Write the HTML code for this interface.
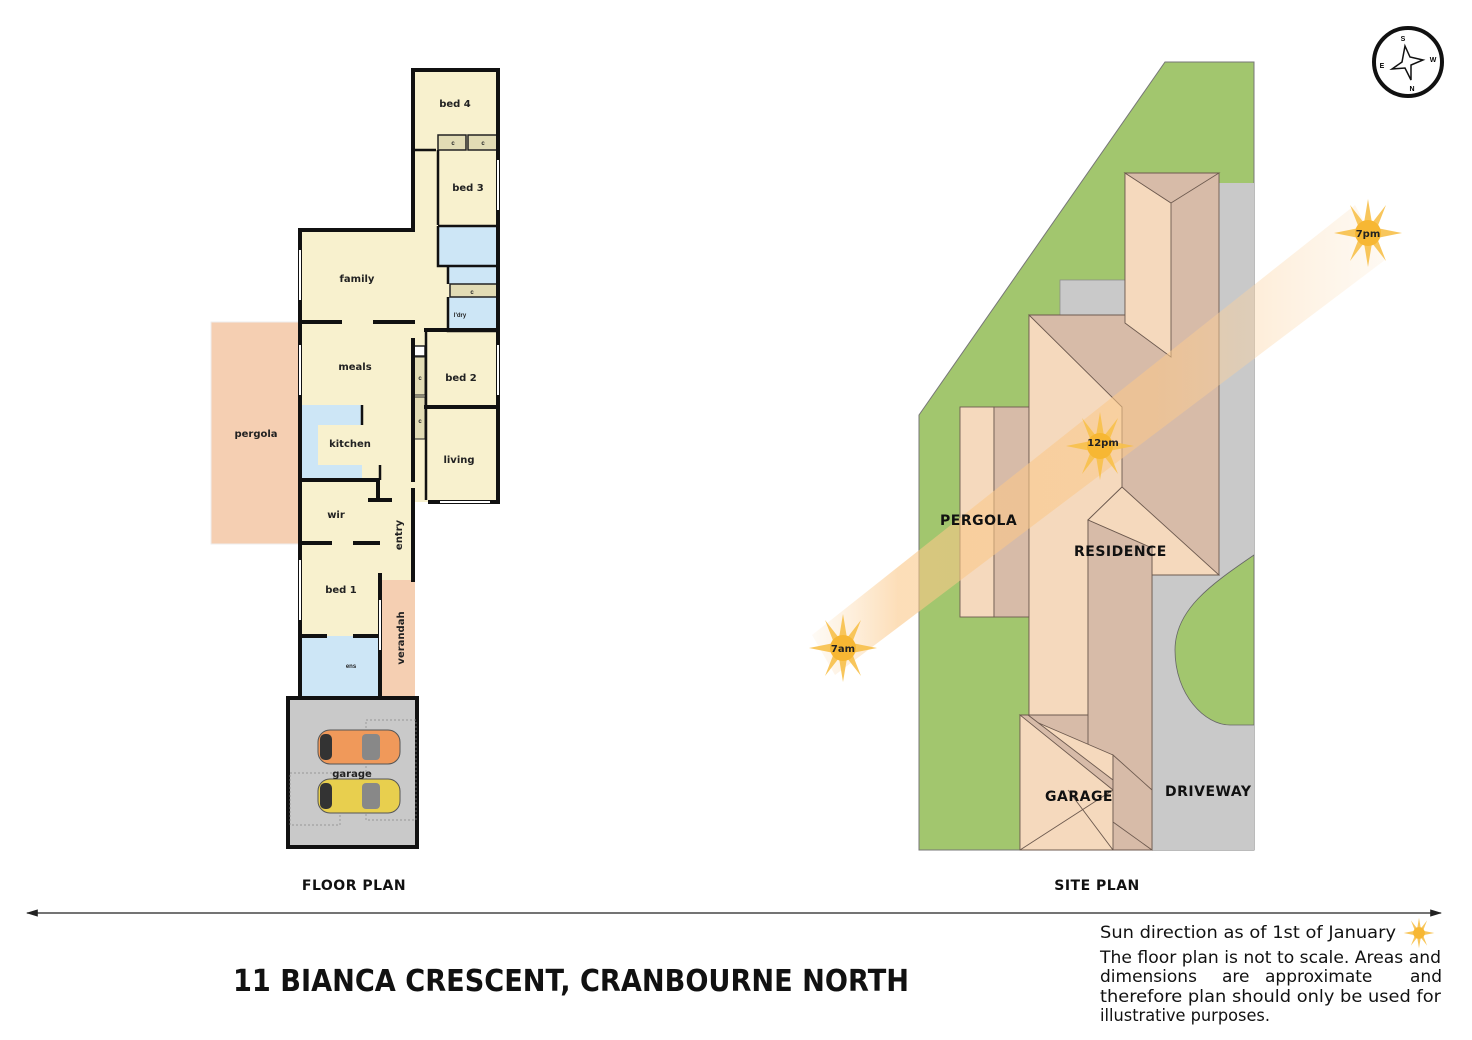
<!DOCTYPE html>
<html><head><meta charset="utf-8"><style>
html,body{margin:0;padding:0;background:#fff;}
svg{display:block;font-family:"Liberation Sans","DejaVu Sans",sans-serif;}
.rl{font-weight:bold;font-size:10px;fill:#222;text-anchor:middle;font-family:"DejaVu Sans","Liberation Sans",sans-serif;}
.sm{font-weight:bold;font-size:6px;fill:#222;text-anchor:middle;}
.sl{font-weight:bold;font-size:14px;fill:#111;font-family:"DejaVu Sans","Liberation Sans",sans-serif;letter-spacing:0.5px;}
</style></head><body>
<svg width="1472" height="1040" viewBox="0 0 1472 1040" xmlns="http://www.w3.org/2000/svg">
<defs>
<g id="sun">
<polygon points="0,-34 4,-10 18,-28 9,-5 34,0 9,5 18,28 4,10 0,34 -4,10 -18,28 -9,5 -34,0 -9,-5 -18,-28 -4,-10" fill="#f7c04a" opacity="0.9"/>
<circle r="13" fill="#f7b733"/>
</g>
<marker id="ah" markerWidth="10" markerHeight="8" refX="9" refY="4" orient="auto"><path d="M0,1 L10,4 L0,7 Z" fill="#222"/></marker>
<marker id="ah2" markerWidth="10" markerHeight="8" refX="1" refY="4" orient="auto"><path d="M10,1 L0,4 L10,7 Z" fill="#222"/></marker>
<linearGradient id="band" x1="0" y1="0" x2="1" y2="0">
<stop offset="0" stop-color="#fbd4a0" stop-opacity="0.1"/>
<stop offset="0.15" stop-color="#fbc889" stop-opacity="0.6"/>
<stop offset="0.6" stop-color="#fbc889" stop-opacity="0.55"/>
<stop offset="1" stop-color="#fde2c0" stop-opacity="0.2"/>
</linearGradient>
</defs>

<!-- ===== FLOOR PLAN ===== -->
<rect x="211" y="322" width="88" height="222" fill="#f5cfb2" stroke="#eee" stroke-width="1"/>
<rect x="413" y="70" width="85" height="432" fill="#f8f1ce"/>
<rect x="300" y="230" width="113" height="467" fill="#f8f1ce"/>
<rect x="378" y="480" width="37" height="100" fill="#f8f1ce"/>
<rect x="438" y="226" width="59" height="40" fill="#cde6f6"/>
<rect x="448" y="266" width="49" height="18" fill="#cde6f6"/>
<rect x="448" y="297" width="52" height="34" fill="#cde6f6"/>
<rect x="450" y="284" width="47" height="13" fill="#e2dcb5" stroke="#222" stroke-width="1.5"/>
<rect x="438" y="135" width="28" height="15" fill="#e2dcb5" stroke="#222" stroke-width="1.5"/>
<rect x="468" y="135" width="30" height="15" fill="#e2dcb5" stroke="#222" stroke-width="1.5"/>
<rect x="414" y="357" width="11" height="38" fill="#e2dcb5" stroke="#222" stroke-width="1"/>
<rect x="414" y="397" width="11" height="42" fill="#e2dcb5" stroke="#222" stroke-width="1"/>
<rect x="414" y="346" width="11" height="10" fill="#fff" stroke="#222" stroke-width="1.5"/>
<path d="M302 405 H362 V425 H318 V465 H362 V480 H302 Z" fill="#cde6f6"/>
<rect x="300" y="636" width="80" height="61" fill="#cde6f6"/>
<rect x="380" y="580" width="35" height="117" fill="#f5cfb2"/>
<rect x="288" y="698" width="129" height="149" fill="#c9c9c9" stroke="#111" stroke-width="4"/>
<rect x="366" y="720" width="50" height="100" fill="none" stroke="#888" stroke-width="0.7" stroke-dasharray="2,2"/>
<rect x="290" y="773" width="50" height="52" fill="none" stroke="#888" stroke-width="0.7" stroke-dasharray="2,2"/>
<g>
<rect x="318" y="730" width="82" height="34" rx="12" fill="#f0995a" stroke="#555" stroke-width="1"/>
<rect x="320" y="734" width="12" height="26" rx="5" fill="#333"/>
<rect x="362" y="734" width="18" height="26" rx="4" fill="#888"/>
</g>
<g>
<rect x="318" y="779" width="82" height="34" rx="12" fill="#e8cf4e" stroke="#555" stroke-width="1"/>
<rect x="320" y="783" width="12" height="26" rx="5" fill="#333"/>
<rect x="362" y="783" width="18" height="26" rx="4" fill="#888"/>
</g>
<g stroke="#111" stroke-width="4" fill="none" stroke-linecap="square">
<path d="M413 230 V70 H498 V502 H430"/>
<path d="M413 230 H300 V697"/>
<path d="M413 340 V480"/>
<path d="M413 490 V580"/>
<path d="M300 322 H340 M375 322 H413"/>
<path d="M300 480 H378 V500 M370 500 H390"/>
<path d="M300 543 H330 M355 543 H378"/>
<path d="M380 575 V697"/>
<path d="M300 636 H325 M355 636 H380"/>
<path d="M426 407 H498"/>
<path d="M426 330 H498"/>
</g>
<g stroke="#111" stroke-width="2.5" fill="none">
<path d="M413 150 H436 M438 150 V225 M438 226 H497"/>
<path d="M438 226 V266 H497"/>
<path d="M448 266 V284 M448 297 V331 H498"/>
<path d="M426 330 V407 V500"/>
<path d="M362 405 V425 M380 465 V480"/>
</g>
<g stroke="#fff" stroke-width="2"><line x1="300" y1="250" x2="300" y2="300"/><line x1="300" y1="345" x2="300" y2="395"/><line x1="300" y1="560" x2="300" y2="620"/><line x1="498" y1="160" x2="498" y2="210"/><line x1="498" y1="345" x2="498" y2="395"/><line x1="440" y1="502" x2="490" y2="502"/><line x1="380" y1="600" x2="380" y2="650"/></g>
<text class="rl" x="455" y="107">bed 4</text>
<text class="rl" x="468" y="191">bed 3</text>
<text class="rl" x="357" y="282">family</text>
<text class="rl" x="355" y="370">meals</text>
<text class="rl" x="461" y="381">bed 2</text>
<text class="rl" x="256" y="437">pergola</text>
<text class="rl" x="350" y="447">kitchen</text>
<text class="rl" x="459" y="463">living</text>
<text class="rl" x="336" y="518">wir</text>
<text class="rl" x="341" y="593">bed 1</text>
<text class="rl" x="352" y="777">garage</text>
<text class="rl" x="0" y="0" transform="translate(402,535) rotate(-90)">entry</text>
<text class="rl" x="0" y="0" transform="translate(404,638) rotate(-90)">verandah</text>
<text class="sm" x="351" y="668">ens</text>
<text class="sm" x="460" y="317">l'dry</text>
<text class="sm" x="453" y="145">c</text><text class="sm" x="483" y="145">c</text><text class="sm" x="472" y="294">c</text>
<text class="sm" x="420" y="380">c</text><text class="sm" x="420" y="423">c</text>

<!-- ===== SITE PLAN ===== -->
<polygon points="919,415 1165,62 1254,62 1254,850 919,850" fill="#a2c66e" stroke="#777" stroke-width="1"/>
<rect x="1219" y="183" width="35" height="667" fill="#c9c9c9"/>
<rect x="1152" y="575" width="102" height="275" fill="#c9c9c9"/>
<rect x="1060" y="280" width="70" height="40" fill="#c9c9c9" stroke="#888" stroke-width="0.7"/>
<path d="M1254 555 C1210 585 1175 610 1175 650 C1175 695 1205 725 1230 725 H1254 Z" fill="#a2c66e" stroke="#666" stroke-width="0.8"/>
<g stroke="#6d5a4f" stroke-width="0.9">
<rect x="960" y="407" width="34" height="210" fill="#f5d9bd"/>
<rect x="994" y="407" width="35" height="210" fill="#d7bba8"/>
<polygon points="1029,315 1125,315 1125,173 1219,173 1219,575 1152,575 1152,850 1020,850 1020,715 1029,715" fill="#d7bba8"/>
<polygon points="1029,315 1122,407 1122,487 1088,520 1088,715 1029,715" fill="#f5d9bd"/>
<polygon points="1125,173 1171,203 1171,357 1125,323" fill="#f5d9bd"/>
<polygon points="1125,173 1219,173 1171,203" fill="#d7bba8"/>
<polygon points="1122,487 1219,575 1152,575 1152,548 1088,520" fill="#f5d9bd"/>
<polygon points="1088,520 1152,548 1152,850 1088,850" fill="#d7bba8"/>
<polygon points="1020,715 1113,755 1113,850 1020,850" fill="#f5d9bd"/>
<polygon points="1020,715 1028,715 1113,780 1113,790" fill="#d7bba8"/>
<line x1="1020" y1="850" x2="1113" y2="790"/>
<line x1="1068" y1="790" x2="1113" y2="850"/>
<polygon points="1113,755 1152,790 1152,850 1113,822" fill="#d7bba8"/>
</g>
<polygon points="812,635 1355,205 1385,260 835,675" fill="url(#band)"/>
<use href="#sun" x="843" y="648"/>
<use href="#sun" x="1100" y="446"/>
<use href="#sun" x="1368" y="233"/>
<text class="rl" x="843" y="652" font-size="12">7am</text>
<text class="rl" x="1103" y="446" font-size="12">12pm</text>
<text class="rl" x="1368" y="237" font-size="12">7pm</text>
<text class="sl" x="940" y="525">PERGOLA</text>
<text class="sl" x="1074" y="556">RESIDENCE</text>
<text class="sl" x="1045" y="801">GARAGE</text>
<text class="sl" x="1165" y="796">DRIVEWAY</text>

<circle cx="1408" cy="62" r="34" fill="#fff" stroke="#111" stroke-width="4"/>
<polygon points="1405,46 1410,57 1423,60 1411,65 1411,80 1405,68 1392,69 1402,62" fill="#fff" stroke="#111" stroke-width="1.5"/>
<text x="1403" y="41" font-size="7" font-weight="bold" text-anchor="middle">S</text>
<text x="1433" y="62" font-size="7" font-weight="bold" text-anchor="middle">W</text>
<text x="1412" y="91" font-size="7" font-weight="bold" text-anchor="middle">N</text>
<text x="1382" y="68" font-size="7" font-weight="bold" text-anchor="middle">E</text>

<text class="sl" x="354" y="890" text-anchor="middle" font-size="15" letter-spacing="1">FLOOR PLAN</text>
<text class="sl" x="1097" y="890" text-anchor="middle" font-size="15" letter-spacing="1">SITE PLAN</text>
<line x1="27" y1="913" x2="1441" y2="913" stroke="#222" stroke-width="1.2" marker-end="url(#ah)" marker-start="url(#ah2)"/>
<text x="571" y="991" text-anchor="middle" font-size="30" font-weight="bold" fill="#111" font-family="'DejaVu Sans','Liberation Sans',sans-serif" textLength="676" lengthAdjust="spacingAndGlyphs">11 BIANCA CRESCENT, CRANBOURNE NORTH</text>
<g font-size="17" fill="#111" font-family="'DejaVu Sans','Liberation Sans',sans-serif">
<text x="1100" y="938" textLength="296" lengthAdjust="spacingAndGlyphs">Sun direction as of 1st of January</text>
<text x="1100" y="963" textLength="341" lengthAdjust="spacingAndGlyphs">The floor plan is not to scale. Areas and</text>
<text x="1100" y="982">dimensions</text>
<text x="1222" y="982">are</text>
<text x="1265" y="982">approximate</text>
<text x="1442" y="982" text-anchor="end">and</text>
<text x="1100" y="1002" textLength="341" lengthAdjust="spacingAndGlyphs">therefore plan should only be used for</text>
<text x="1100" y="1021" textLength="170" lengthAdjust="spacingAndGlyphs">illustrative purposes.</text>
</g>
<use href="#sun" transform="translate(1419,933) scale(0.45)"/>
</svg>
</body></html>
